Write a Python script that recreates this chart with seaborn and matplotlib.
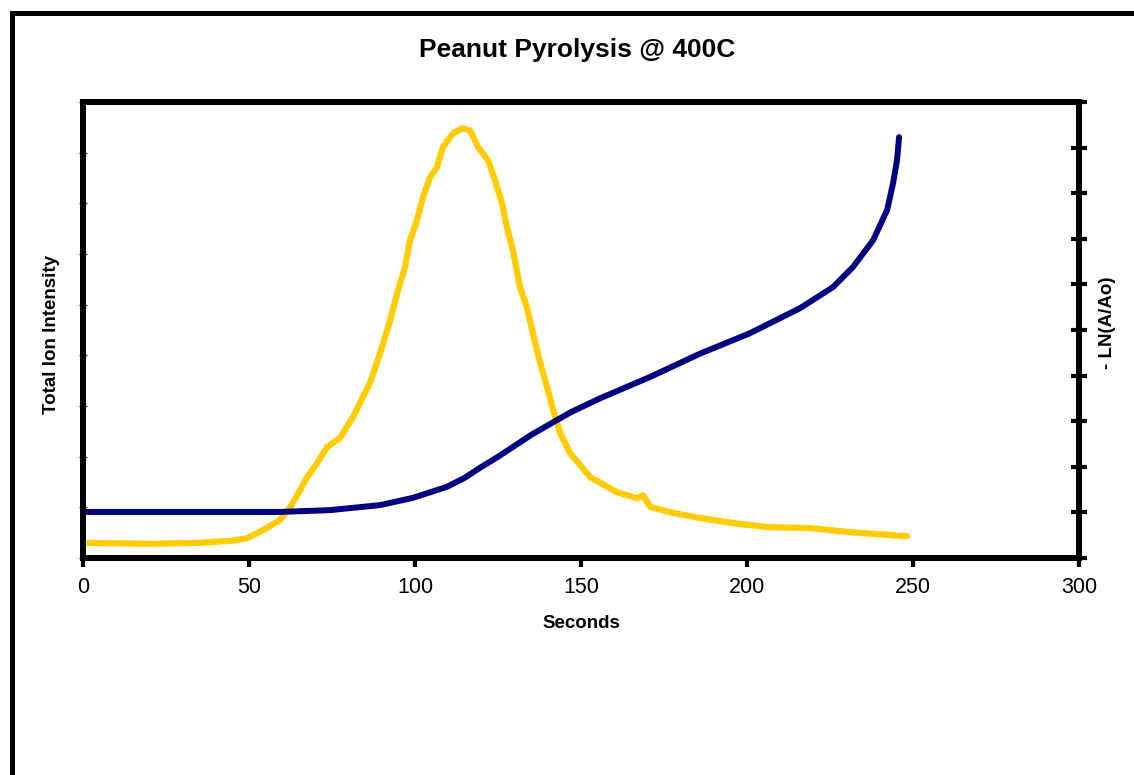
import matplotlib
matplotlib.use("Agg")
import matplotlib.pyplot as plt
from matplotlib.lines import Line2D
import seaborn as sns
import numpy as np

# ---- data ----
tii_seconds = [0.0, 20.2, 35.2, 44.9, 49.4, 54.2, 59.3, 62.3, 65.4, 67.5, 70.5, 73.5,
               77.4, 81.3, 86.4, 89.5, 92.5, 94.9, 97.0, 98.5, 100.6, 102.4, 104.5,
               106.6, 108.4, 111.4, 114.2, 116.6, 119.0, 122.0, 124.1, 126.2, 127.7,
               129.5, 131.6, 133.7, 135.5, 137.7, 139.8, 141.6, 143.7, 146.7, 152.7,
               160.8, 166.9, 168.7, 170.8, 177.7, 185.8, 195.8, 206.0, 219.0, 231.0,
               248.2]
tii_values = [0.30, 0.28, 0.30, 0.34, 0.39, 0.55, 0.75, 0.99, 1.34, 1.60, 1.87, 2.19,
              2.37, 2.78, 3.45, 4.04, 4.69, 5.29, 5.74, 6.27, 6.67, 7.12, 7.51,
              7.71, 8.11, 8.38, 8.48, 8.44, 8.11, 7.85, 7.46, 7.00, 6.53,
              6.07, 5.35, 4.95, 4.44, 3.85, 3.37, 2.92, 2.47, 2.07, 1.60,
              1.30, 1.18, 1.24, 1.01, 0.89, 0.79, 0.69, 0.61, 0.59, 0.51,
              0.43]

ln_seconds = [0.0, 44.3, 59.3, 74.4, 89.5, 99.4, 109.6, 115.0, 119.6, 125.0, 130.0,
              135.0, 140.7, 147.0, 155.7, 170.8, 185.8, 200.9, 216.0, 225.9, 231.9,
              238.0, 242.2, 244.0, 245.2, 245.8]
ln_values = [1.01, 1.01, 1.01, 1.05, 1.16, 1.32, 1.56, 1.76, 1.98, 2.22, 2.46,
             2.70, 2.94, 3.20, 3.50, 3.97, 4.48, 4.93, 5.48, 5.94, 6.38,
             6.97, 7.63, 8.22, 8.73, 9.23]

x_ticks = [0, 50, 100, 150, 200, 250, 300]
title = "Peanut Pyrolysis @ 400C"
x_label = "Seconds"
y_label_left = "Total Ion Intensity"
y_label_right = "- LN(A/Ao)"

# ---- style ----
sns.set_style("white")
plt.rcParams['font.family'] = ['Liberation Sans', 'DejaVu Sans']
plt.rcParams['text.color'] = 'black'
plt.rcParams['axes.labelcolor'] = 'black'
plt.rcParams['xtick.color'] = 'black'
plt.rcParams['ytick.color'] = 'black'

W, H = 1134, 775
fig = plt.figure(figsize=(W / 100, H / 100), dpi=100)
L, R, T, B = 83, 1079, 102, 558
ax = fig.add_axes([L / W, 1 - B / H, (R - L) / W, (B - T) / H])
ax2 = ax.twinx()

sns.lineplot(x=tii_seconds, y=tii_values, ax=ax, color="#FFCC00", linewidth=4.5,
             estimator=None, sort=False)
sns.lineplot(x=ln_seconds, y=ln_values, ax=ax2, color="#000080", linewidth=4.3,
             estimator=None, sort=False)

ax.set_xlim(0, 300)
ax.set_ylim(0, 9)
ax2.set_ylim(0, 10)
ax.set_xticks(x_ticks)
ax.set_xticklabels([str(t) for t in x_ticks])
ax.set_yticks(np.arange(0, 10, 1))
ax2.set_yticks(np.arange(0, 11, 1))

for a in (ax, ax2):
    for s in a.spines.values():
        s.set_visible(True)
        s.set_linewidth(4.3)
        s.set_color("black")
    a.grid(False)

ax.tick_params(axis='x', direction='out', length=6.5, width=3, color='black',
               labelcolor='black', labelsize=15.5, pad=7, bottom=True)
ax.tick_params(axis='y', direction='inout', length=6, width=1, color='#333333',
               left=True, labelleft=False)
ax2.tick_params(axis='y', direction='inout', length=11.5, width=3, color='black',
                right=True, labelright=False)

fig.suptitle(title, x=577 / W, y=1 - 50 / H, va='center', ha='center',
             fontsize=19, fontweight='bold', color='black')

ax.set_xlabel(x_label, fontsize=13.5, fontweight='bold', color='black')
ax.xaxis.set_label_coords(0.5, (B - 623) / (B - T))
ax.xaxis.label.set_va('center')

ax.set_ylabel(y_label_left, fontsize=13.5, fontweight='bold', color='black')
ax.yaxis.set_label_coords((52 - L) / (R - L), 0.491)
ax.yaxis.label.set_va('center')

ax2.set_ylabel(y_label_right, fontsize=13.5, fontweight='bold', rotation=90,
               color='black')
ax2.yaxis.set_label_coords((1108 - L) / (R - L), (B - 323) / (B - T))
ax2.yaxis.label.set_va('center')

# outer frame (left and top edges visible; it continues past the image)
fx = 11.5 / W
fy = 1 - 12.5 / H
fig.add_artist(Line2D([fx, fx, 1.05], [-0.05, fy, fy], transform=fig.transFigure,
                      color='black', linewidth=3.6, solid_joinstyle='miter'))

fig.savefig("out.png", dpi=100, facecolor='white')
